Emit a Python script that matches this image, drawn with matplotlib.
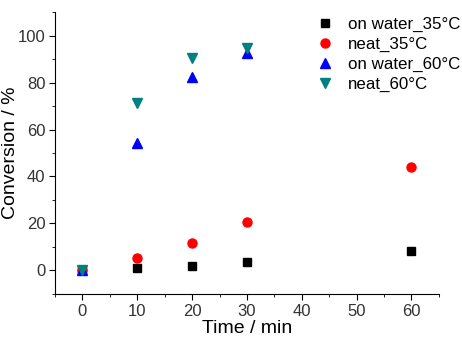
import numpy as np
import matplotlib
matplotlib.use('Agg')
import matplotlib.pyplot as plt
from matplotlib.ticker import MultipleLocator

plt.rcParams['font.family'] = ['Liberation Sans', 'DejaVu Sans']

# data
time_35 = [0, 10, 20, 30, 60]
water_35 = [0, 1.0, 2.0, 3.5, 8.1]
neat_35 = [0, 5.4, 11.8, 20.4, 44.0]
time_60 = [0, 10, 20, 30]
water_60 = [0, 54.3, 82.3, 92.6]
neat_60 = [0, 71.5, 90.5, 94.6]

fig = plt.figure(figsize=(4.62, 3.37), dpi=100)
ax = fig.add_axes([0.119, 0.128, 0.831, 0.836])

ax.plot(time_35, water_35, 's', color='black', ms=6, label='on water_35°C', ls='none')
ax.plot(time_35, neat_35, 'o', color='red', ms=6.5, label='neat_35°C', ls='none')
ax.plot(time_60, water_60, '^', color='blue', ms=7.5, label='on water_60°C', ls='none')
ax.plot(time_60, neat_60, 'v', color='#008080', ms=7.5, label='neat_60°C', ls='none')

ax.set_xlim(-5, 65)
ax.set_ylim(-10, 110)
ax.xaxis.set_major_locator(MultipleLocator(10))
ax.xaxis.set_minor_locator(MultipleLocator(5))
ax.yaxis.set_major_locator(MultipleLocator(20))
ax.yaxis.set_minor_locator(MultipleLocator(10))
ax.spines['top'].set_visible(False)
ax.spines['right'].set_visible(False)
ax.tick_params(which='major', direction='out', length=4, labelsize=12, color='black', pad=3)
ax.tick_params(which='minor', direction='out', length=2.5)
for lbl in ax.get_xticklabels() + ax.get_yticklabels():
    lbl.set_color('#333333')

ax.set_xlabel('Time / min', fontsize=14, labelpad=1)
ax.set_ylabel('Conversion / %', fontsize=14, labelpad=-1)

fig.legend(loc='upper right', bbox_to_anchor=(1.03, 0.995), frameon=False,
           fontsize=12.2, handletextpad=0.9, labelspacing=0.28, handlelength=1.0)

fig.savefig('out.png', dpi=100)
